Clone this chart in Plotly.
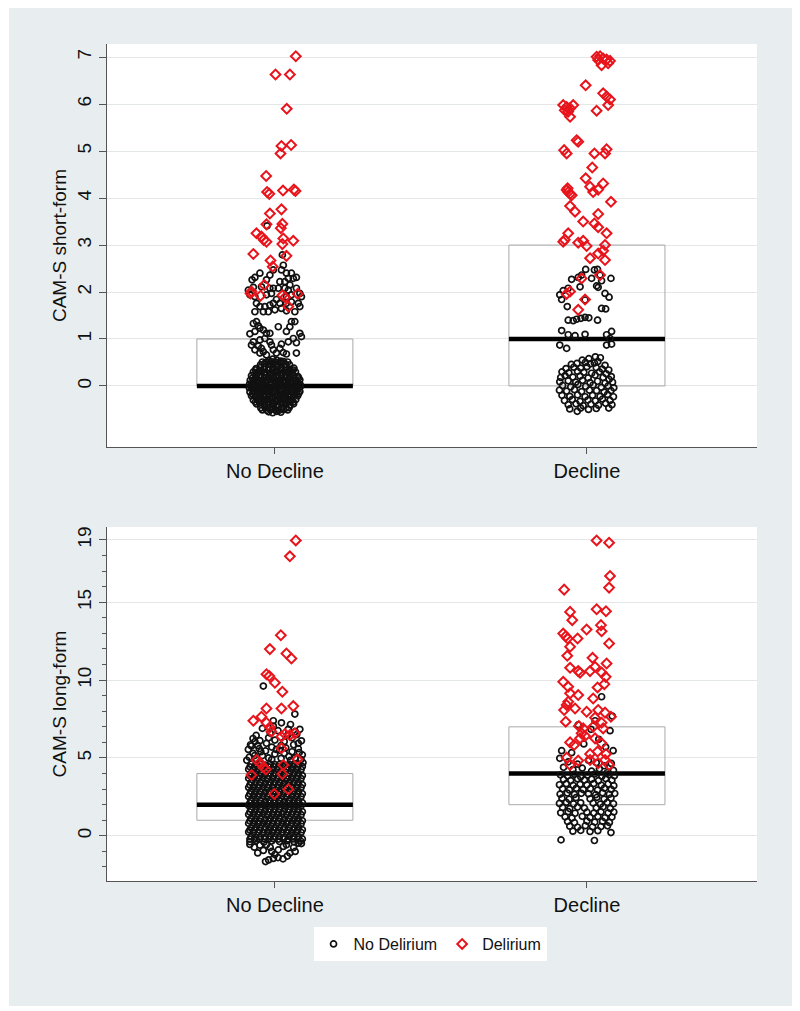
import plotly.graph_objects as go

# ---------------- data ----------------
categories = ["No Decline", "Decline"]
category_positions = [1, 2]

# box statistics (25th pct, median, 75th pct) per category
sf_q1 = [0, 0]
sf_median = [0, 1]
sf_q3 = [1, 3]
lf_q1 = [1, 2]
lf_median = [2, 4]
lf_q3 = [4, 7]

sf_tickvals = [0, 1, 2, 3, 4, 5, 6, 7]
lf_tickvals = [0, 5, 10, 15, 19]

legend_names = ["No Delirium", "Delirium"]

# jittered observations: (horizontal jitter from category centre, value)
# CAM-S short-form, No Decline, No Delirium
sf_nodecline_nodelirium = [
    (0.027, 2.57), (0.021, 2.47), (0.037, 2.40), (0.053, 2.40), (0.043, 2.29), (0.059, 2.29), (0.069, 2.31),
    (-0.048, 2.40), (-0.064, 2.31), (-0.073, 2.26), (-0.016, 2.36), (-0.005, 2.47), (-0.027, 2.26), (0.016, 2.22),
    (0.032, 2.22), (0.048, 2.15), (-0.043, 2.11), (-0.069, 2.10), (-0.085, 2.04), (-0.016, 2.08), (-0.005, 2.08),
    (0.011, 2.08), (0.032, 2.08), (0.043, 2.04), (0.069, 2.08), (0.080, 1.97), (0.085, 1.90), (-0.064, 1.90),
    (-0.059, 1.76), (-0.048, 1.69), (-0.032, 1.69), (-0.016, 1.72), (-0.005, 1.76), (0.005, 1.84), (0.016, 1.76),
    (0.037, 1.76), (0.053, 1.79), (0.075, 1.76), (0.080, 1.69), (-0.037, 1.58), (-0.021, 1.58), (0.000, 1.62),
    (-0.064, 1.58), (0.064, 1.58), (0.037, 1.60), (0.021, 1.65), (-0.080, 1.94), (-0.027, 1.94), (-0.011, 1.97),
    (0.053, 1.94), (0.037, 1.90), (-0.025, 3.41), (0.024, 2.79),
    (-0.069, 1.33), (-0.059, 1.37), (-0.053, 1.28), (-0.048, 1.23), (-0.037, 1.19), (-0.064, 1.16), (-0.080, 1.11),
    (-0.027, 1.12), (-0.016, 1.12), (-0.032, 1.01), (-0.048, 0.98), (-0.069, 0.94), (-0.075, 0.87), (-0.053, 0.85),
    (-0.043, 0.80), (-0.037, 0.73), (-0.016, 0.94), (-0.011, 0.87), (0.011, 1.26), (0.053, 1.37), (0.064, 1.37),
    (0.048, 1.26), (0.037, 1.16), (0.080, 1.12), (0.085, 1.05), (0.059, 1.01), (0.043, 0.94), (0.069, 0.92),
    (0.021, 0.89), (0.016, 0.80), (0.027, 0.71), (0.037, 0.68), (0.069, 0.70), (-0.048, 0.70), (-0.064, 0.77),
    (-0.027, 0.66), (0.005, 0.70), (-0.005, 0.77),
    (-0.020, 0.54), (-0.007, 0.57), (0.006, 0.55), (0.019, 0.53),
    (-0.040, 0.51), (-0.026, 0.50), (-0.013, 0.52), (0.001, 0.51), (0.014, 0.50), (0.028, 0.52), (0.041, 0.51),
    (-0.046, 0.45), (-0.033, 0.48), (-0.019, 0.46), (-0.006, 0.47), (0.008, 0.44), (0.021, 0.49), (0.034, 0.46), (0.047, 0.45),
    (-0.060, 0.37), (-0.047, 0.39), (-0.033, 0.40), (-0.020, 0.36), (-0.006, 0.38), (0.007, 0.41), (0.021, 0.37),
    (0.034, 0.39), (0.048, 0.36), (0.061, 0.38),
    (-0.062, 0.34), (-0.049, 0.33), (-0.035, 0.35), (-0.022, 0.34), (-0.008, 0.33), (0.005, 0.35), (0.019, 0.34),
    (0.032, 0.33), (0.046, 0.35), (0.059, 0.34),
    (-0.069, 0.30), (-0.056, 0.28), (-0.042, 0.31), (-0.029, 0.29), (-0.015, 0.27), (-0.002, 0.30), (0.012, 0.32),
    (0.025, 0.28), (0.039, 0.29), (0.052, 0.31), (0.066, 0.30),
    (-0.075, 0.22), (-0.061, 0.20), (-0.048, 0.21), (-0.034, 0.23), (-0.021, 0.19), (-0.007, 0.21), (0.006, 0.20),
    (0.020, 0.22), (0.033, 0.21), (0.047, 0.19), (0.060, 0.22), (0.074, 0.20),
    (-0.072, 0.17), (-0.058, 0.16), (-0.045, 0.18), (-0.031, 0.17), (-0.018, 0.16), (-0.004, 0.18), (0.009, 0.17),
    (0.023, 0.16), (0.036, 0.18), (0.050, 0.17), (0.063, 0.16), (0.076, 0.17),
    (-0.079, 0.12), (-0.066, 0.14), (-0.052, 0.11), (-0.039, 0.13), (-0.025, 0.12), (-0.012, 0.14), (0.002, 0.11),
    (0.015, 0.13), (0.029, 0.12), (0.042, 0.14), (0.056, 0.12), (0.069, 0.11), (0.080, 0.13),
    (-0.081, 0.04), (-0.068, 0.03), (-0.054, 0.05), (-0.041, 0.04), (-0.027, 0.02), (-0.014, 0.05), (0.000, 0.03),
    (0.013, 0.04), (0.027, 0.06), (0.040, 0.03), (0.054, 0.04), (0.067, 0.05), (0.081, 0.03),
    (-0.078, 0.00), (-0.064, -0.01), (-0.051, 0.01), (-0.037, 0.00), (-0.024, -0.01), (-0.010, 0.01), (0.003, 0.00),
    (0.017, -0.01), (0.030, 0.01), (0.044, 0.00), (0.057, -0.01), (0.071, 0.01), (0.082, -0.01),
    (-0.082, -0.04), (-0.072, -0.05), (-0.059, -0.03), (-0.045, -0.06), (-0.032, -0.04), (-0.018, -0.05), (-0.005, -0.03),
    (0.009, -0.04), (0.022, -0.06), (0.036, -0.05), (0.049, -0.04), (0.063, -0.03), (0.076, -0.05),
    (-0.080, -0.13), (-0.066, -0.12), (-0.053, -0.14), (-0.039, -0.13), (-0.026, -0.11), (-0.012, -0.14), (0.001, -0.12),
    (0.015, -0.13), (0.028, -0.15), (0.042, -0.12), (0.055, -0.13), (0.069, -0.14), (0.080, -0.12),
    (-0.072, -0.17), (-0.058, -0.18), (-0.045, -0.16), (-0.031, -0.17), (-0.018, -0.18), (-0.004, -0.16), (0.009, -0.17),
    (0.023, -0.18), (0.036, -0.16), (0.050, -0.17), (0.063, -0.18), (0.076, -0.16),
    (-0.075, -0.21), (-0.062, -0.22), (-0.048, -0.20), (-0.035, -0.23), (-0.021, -0.21), (-0.008, -0.22), (0.006, -0.20),
    (0.019, -0.21), (0.033, -0.23), (0.046, -0.22), (0.060, -0.20), (0.073, -0.21),
    (-0.069, -0.30), (-0.055, -0.29), (-0.042, -0.31), (-0.028, -0.30), (-0.015, -0.28), (-0.001, -0.32), (0.012, -0.30),
    (0.026, -0.29), (0.039, -0.31), (0.053, -0.30), (0.067, -0.29),
    (-0.062, -0.34), (-0.049, -0.35), (-0.035, -0.33), (-0.022, -0.34), (-0.008, -0.35), (0.005, -0.33), (0.019, -0.34),
    (0.032, -0.35), (0.046, -0.33), (0.059, -0.34),
    (-0.059, -0.38), (-0.046, -0.39), (-0.032, -0.37), (-0.019, -0.40), (-0.005, -0.38), (0.008, -0.39), (0.022, -0.37),
    (0.035, -0.38), (0.049, -0.40), (0.060, -0.38),
    (-0.045, -0.47), (-0.032, -0.46), (-0.018, -0.48), (-0.005, -0.47), (0.009, -0.46), (0.022, -0.48), (0.036, -0.47), (0.046, -0.46),
    (-0.040, -0.51), (-0.026, -0.52), (-0.013, -0.50), (0.001, -0.51), (0.014, -0.52), (0.028, -0.50), (0.041, -0.51),
    (-0.020, -0.55), (-0.007, -0.57), (0.006, -0.54), (0.019, -0.56),
]

# CAM-S short-form, No Decline, Delirium
sf_nodecline_delirium = [
    (0.067, 7.02), (0.002, 6.63), (0.048, 6.63), (0.038, 5.90), (0.021, 5.11), (0.052, 5.13), (0.018, 4.95),
    (-0.028, 4.47), (-0.025, 4.13), (-0.018, 4.09), (0.026, 4.16), (0.061, 4.18), (0.066, 4.15), (-0.016, 3.67),
    (0.021, 3.76), (-0.027, 3.44), (0.024, 3.45), (0.019, 3.36), (-0.059, 3.25), (-0.043, 3.18), (-0.036, 3.11),
    (-0.027, 3.07), (0.027, 3.14), (0.059, 3.09), (0.024, 3.02), (-0.069, 2.81), (0.037, 2.77), (-0.014, 2.67),
    (-0.007, 2.54), (-0.034, 2.15), (-0.075, 2.01), (-0.046, 1.92), (0.033, 1.89), (0.073, 1.96), (0.043, 1.69),
    (-0.078, 1.97), (0.024, 1.93),
]

# CAM-S short-form, Decline, No Delirium
sf_decline_nodelirium = [
    (-0.004, 2.48), (0.024, 2.47), (0.034, 2.48), (-0.017, 2.36), (-0.049, 2.27), (-0.028, 2.31), (0.015, 2.29),
    (0.042, 2.36), (0.077, 2.29), (0.047, 2.24), (-0.022, 2.11), (-0.060, 2.08), (-0.076, 2.03), (-0.087, 1.94),
    (-0.081, 1.84), (0.031, 2.13), (0.036, 2.10), (0.058, 1.97), (0.071, 1.89), (-0.063, 1.69), (-0.006, 1.83),
    (0.047, 1.65), (0.060, 1.64), (-0.060, 1.40), (-0.044, 1.39), (-0.033, 1.42), (-0.019, 1.44), (-0.006, 1.46),
    (0.006, 1.45), (0.034, 1.40), (-0.081, 1.18), (-0.060, 1.09), (-0.038, 1.07), (-0.006, 1.10), (0.063, 1.09),
    (0.079, 1.16), (0.074, 1.01), (-0.087, 0.87), (-0.065, 0.80), (0.063, 0.87), (0.079, 0.89),
    (0.027, 0.62), (0.043, 0.60), (0.006, 0.58), (-0.015, 0.55), (0.035, 0.52),
    (-0.032, 0.48), (-0.050, 0.46), (0.011, 0.47), (0.058, 0.44), (-0.005, 0.50), (0.024, 0.49),
    (-0.067, 0.37), (-0.042, 0.40), (-0.020, 0.38), (0.000, 0.41), (0.030, 0.39), (0.049, 0.36), (0.070, 0.34), (-0.080, 0.30),
    (-0.058, 0.28), (-0.030, 0.31), (-0.010, 0.29), (0.015, 0.27), (0.040, 0.30), (0.062, 0.26), (0.078, 0.20),
    (-0.084, 0.18), (-0.070, 0.22), (-0.045, 0.19), (-0.022, 0.21), (0.004, 0.17), (0.026, 0.23), (0.052, 0.18), (0.071, 0.14),
    (-0.087, 0.09), (-0.060, 0.11), (-0.036, 0.08), (-0.014, 0.12), (0.010, 0.07), (0.034, 0.10), (0.058, 0.06), (0.082, 0.08),
    (-0.078, 0.01), (-0.052, -0.02), (-0.029, 0.03), (-0.004, -0.01), (0.020, 0.02), (0.046, -0.03), (0.068, 0.00), (0.086, -0.04),
    (-0.088, -0.09), (-0.065, -0.11), (-0.040, -0.08), (-0.017, -0.12), (0.008, -0.09), (0.031, -0.10), (0.055, -0.13), (0.077, -0.10),
    (-0.080, -0.20), (-0.055, -0.22), (-0.030, -0.19), (-0.006, -0.23), (0.018, -0.20), (0.042, -0.22), (0.066, -0.18), (0.085, -0.23),
    (-0.072, -0.31), (-0.047, -0.29), (-0.022, -0.33), (0.003, -0.30), (0.027, -0.32), (0.050, -0.28), (0.074, -0.31),
    (-0.060, -0.40), (-0.035, -0.38), (-0.012, -0.42), (0.013, -0.39), (0.037, -0.41), (0.060, -0.37), (0.080, -0.40),
    (-0.055, -0.49), (-0.020, -0.47), (0.005, -0.50), (0.030, -0.48), (0.070, -0.47), (-0.031, -0.54),
]

# CAM-S short-form, Decline, Delirium
sf_decline_delirium = [
    (0.031, 7.01), (0.042, 7.02), (0.052, 6.97), (0.063, 6.95), (0.074, 6.92), (0.047, 6.83), (0.068, 6.87),
    (0.036, 6.94), (-0.004, 6.40), (0.052, 6.23), (0.063, 6.16), (0.074, 6.10), (0.068, 5.98), (0.031, 5.86),
    (-0.076, 5.98), (-0.065, 5.94), (-0.054, 5.91), (-0.044, 5.98), (-0.060, 5.84), (-0.054, 5.73), (-0.071, 5.87),
    (-0.033, 5.23), (-0.028, 5.20), (-0.073, 5.02), (-0.065, 4.95), (0.024, 4.95), (0.058, 4.95), (0.063, 5.04),
    (0.017, 4.65), (-0.004, 4.42), (0.052, 4.31), (-0.065, 4.17), (-0.060, 4.13), (-0.054, 4.09), (-0.062, 4.21),
    (-0.049, 4.06), (0.010, 4.24), (0.020, 4.13), (0.036, 4.18), (0.077, 3.92), (-0.054, 3.83), (-0.038, 3.71),
    (0.036, 3.66), (-0.012, 3.50), (0.024, 3.46), (0.036, 3.38), (0.063, 3.25), (-0.060, 3.25), (-0.071, 3.11),
    (-0.076, 3.07), (-0.028, 3.05), (-0.012, 3.09), (-0.001, 2.98), (0.058, 3.00), (0.052, 2.88), (0.036, 2.82),
    (0.010, 2.72), (0.058, 2.68), (0.042, 2.36), (-0.017, 2.29), (-0.054, 2.01), (-0.065, 1.96), (-0.006, 1.84),
    (-0.028, 1.62),
]

# CAM-S long-form, No Decline, No Delirium
lf_nodecline_nodelirium = [
    (-0.037, 9.62), (0.064, 7.82), (0.021, 7.26), (-0.005, 7.39), (0.080, 6.84), (0.043, 6.84), (-0.064, 6.05),
    (-0.075, 5.77), (-0.048, 6.11), (-0.027, 5.94), (0.000, 6.15), (0.075, 5.94), (0.055, 6.30), (0.030, 6.05),
    (-0.060, 6.45), (-0.015, 6.60), (0.010, 6.75), (-0.040, 6.90), (0.070, 6.50), (0.085, 6.10), (-0.085, 5.55),
    (-0.070, 5.30), (-0.050, 5.60), (-0.030, 5.45), (-0.010, 5.70), (0.015, 5.50), (0.035, 5.65), (0.055, 5.40),
    (0.075, 5.60), (0.088, 5.20), (-0.082, 5.05), (-0.060, 4.95), (-0.040, 5.15), (-0.020, 5.00), (0.000, 5.25),
    (0.020, 4.98), (0.045, 5.10), (0.065, 5.00), (0.084, 4.90), (-0.090, 4.85), (0.090, 4.70), (-0.005, 7.05), (0.050, 7.15),
    (-0.078, 5.85), (-0.055, 5.80), (-0.020, 6.30), (0.040, 6.45), (0.065, 6.70), (-0.070, 6.25), (0.020, 5.80),
    (0.060, 5.85), (-0.045, 5.40), (0.005, 5.55), (0.030, 5.30), (0.078, 5.35), (-0.065, 5.15), (0.050, 4.85), (-0.010, 4.90),
    (-0.080, -0.38), (-0.060, -0.30), (-0.035, -0.40), (-0.010, -0.33), (0.015, -0.37), (0.040, -0.31), (0.062, -0.39), (0.083, -0.34),
    (-0.080, -0.21), (-0.065, -0.20), (-0.050, -0.21), (-0.034, -0.19), (-0.019, -0.21), (-0.004, -0.20), (0.012, -0.21),
    (0.027, -0.19), (0.042, -0.21), (0.058, -0.20), (0.073, -0.21), (0.088, -0.20),
    (-0.076, -0.04), (-0.061, -0.09), (-0.046, -0.05), (-0.031, -0.08), (-0.015, -0.03), (0.000, -0.07), (0.015, -0.05),
    (0.031, -0.09), (0.046, -0.04), (0.061, -0.07), (0.076, -0.05),
    (-0.084, 0.25), (-0.069, 0.21), (-0.054, 0.24), (-0.038, 0.20), (-0.023, 0.26), (-0.008, 0.22), (0.008, 0.25),
    (0.023, 0.21), (0.038, 0.24), (0.054, 0.20), (0.069, 0.26), (0.084, 0.22),
    (-0.080, 0.37), (-0.065, 0.38), (-0.050, 0.37), (-0.034, 0.39), (-0.019, 0.37), (-0.004, 0.38), (0.012, 0.37),
    (0.027, 0.39), (0.042, 0.37), (0.058, 0.38), (0.073, 0.37), (0.088, 0.39),
    (-0.076, 0.50), (-0.061, 0.54), (-0.046, 0.51), (-0.031, 0.55), (-0.015, 0.49), (0.000, 0.53), (0.015, 0.50),
    (0.031, 0.54), (0.046, 0.52), (0.061, 0.49), (0.076, 0.55),
    (-0.084, 0.80), (-0.069, 0.84), (-0.054, 0.79), (-0.038, 0.83), (-0.023, 0.78), (-0.008, 0.82), (0.008, 0.80),
    (0.023, 0.85), (0.038, 0.79), (0.054, 0.83), (0.069, 0.81), (0.084, 0.78),
    (-0.080, 0.95), (-0.065, 0.96), (-0.050, 0.95), (-0.034, 0.97), (-0.019, 0.95), (-0.004, 0.96), (0.012, 0.95),
    (0.027, 0.97), (0.042, 0.95), (0.058, 0.96), (0.073, 0.95), (0.088, 0.97),
    (-0.076, 1.12), (-0.061, 1.08), (-0.046, 1.13), (-0.031, 1.07), (-0.015, 1.11), (0.000, 1.09), (0.015, 1.14),
    (0.031, 1.08), (0.046, 1.12), (0.061, 1.07), (0.076, 1.10),
    (-0.084, 1.37), (-0.069, 1.41), (-0.054, 1.38), (-0.038, 1.42), (-0.023, 1.36), (-0.008, 1.40), (0.008, 1.38),
    (0.023, 1.43), (0.038, 1.37), (0.054, 1.41), (0.069, 1.39), (0.084, 1.36),
    (-0.080, 1.53), (-0.065, 1.54), (-0.050, 1.53), (-0.034, 1.55), (-0.019, 1.53), (-0.004, 1.54), (0.012, 1.53),
    (0.027, 1.55), (0.042, 1.53), (0.058, 1.54), (0.073, 1.53), (0.088, 1.55),
    (-0.076, 1.70), (-0.061, 1.66), (-0.046, 1.69), (-0.031, 1.65), (-0.015, 1.71), (0.000, 1.67), (0.015, 1.69),
    (0.031, 1.72), (0.046, 1.66), (0.061, 1.70), (0.076, 1.67),
    (-0.084, 1.95), (-0.069, 1.99), (-0.054, 1.96), (-0.038, 2.00), (-0.023, 1.94), (-0.008, 1.98), (0.008, 1.96),
    (0.023, 2.01), (0.038, 1.95), (0.054, 1.99), (0.069, 1.97), (0.084, 1.94),
    (-0.080, 2.11), (-0.065, 2.12), (-0.050, 2.11), (-0.034, 2.13), (-0.019, 2.11), (-0.004, 2.12), (0.012, 2.11),
    (0.027, 2.13), (0.042, 2.11), (0.058, 2.12), (0.073, 2.11), (0.088, 2.13),
    (-0.076, 2.28), (-0.061, 2.24), (-0.046, 2.27), (-0.031, 2.23), (-0.015, 2.29), (0.000, 2.25), (0.015, 2.27),
    (0.031, 2.22), (0.046, 2.28), (0.061, 2.25), (0.076, 2.27),
    (-0.084, 2.53), (-0.069, 2.57), (-0.054, 2.54), (-0.038, 2.58), (-0.023, 2.52), (-0.008, 2.56), (0.008, 2.54),
    (0.023, 2.59), (0.038, 2.53), (0.054, 2.57), (0.069, 2.55), (0.084, 2.52),
    (-0.080, 2.69), (-0.065, 2.70), (-0.050, 2.69), (-0.034, 2.71), (-0.019, 2.69), (-0.004, 2.70), (0.012, 2.69),
    (0.027, 2.71), (0.042, 2.69), (0.058, 2.70), (0.073, 2.69), (0.088, 2.71),
    (-0.076, 2.86), (-0.061, 2.82), (-0.046, 2.85), (-0.031, 2.81), (-0.015, 2.87), (0.000, 2.83), (0.015, 2.85),
    (0.031, 2.80), (0.046, 2.86), (0.061, 2.83), (0.076, 2.85),
    (-0.084, 3.11), (-0.069, 3.15), (-0.054, 3.12), (-0.038, 3.16), (-0.023, 3.10), (-0.008, 3.14), (0.008, 3.12),
    (0.023, 3.17), (0.038, 3.11), (0.054, 3.15), (0.069, 3.13), (0.084, 3.10),
    (-0.080, 3.27), (-0.065, 3.28), (-0.050, 3.27), (-0.034, 3.29), (-0.019, 3.27), (-0.004, 3.28), (0.012, 3.27),
    (0.027, 3.29), (0.042, 3.27), (0.058, 3.28), (0.073, 3.27), (0.088, 3.29),
    (-0.076, 3.44), (-0.061, 3.40), (-0.046, 3.43), (-0.031, 3.39), (-0.015, 3.45), (0.000, 3.41), (0.015, 3.43),
    (0.031, 3.38), (0.046, 3.44), (0.061, 3.41), (0.076, 3.43),
    (-0.084, 3.69), (-0.069, 3.73), (-0.054, 3.70), (-0.038, 3.74), (-0.023, 3.68), (-0.008, 3.72), (0.008, 3.70),
    (0.023, 3.75), (0.038, 3.69), (0.054, 3.73), (0.069, 3.71), (0.084, 3.68),
    (-0.080, 3.85), (-0.065, 3.86), (-0.050, 3.85), (-0.034, 3.87), (-0.019, 3.85), (-0.004, 3.86), (0.012, 3.85),
    (0.027, 3.87), (0.042, 3.85), (0.058, 3.86), (0.073, 3.85), (0.088, 3.87),
    (-0.076, 4.02), (-0.061, 3.98), (-0.046, 4.01), (-0.031, 3.97), (-0.015, 4.03), (0.000, 3.99), (0.015, 4.01),
    (0.031, 3.96), (0.046, 4.02), (0.061, 3.99), (0.076, 4.01),
    (-0.084, 4.27), (-0.069, 4.31), (-0.054, 4.28), (-0.038, 4.32), (-0.023, 4.26), (-0.008, 4.30), (0.008, 4.28),
    (0.023, 4.33), (0.038, 4.27), (0.054, 4.31), (0.069, 4.29), (0.084, 4.26),
    (-0.080, 4.43), (-0.065, 4.44), (-0.050, 4.43), (-0.034, 4.45), (-0.019, 4.43), (-0.004, 4.44), (0.012, 4.43),
    (0.027, 4.45), (0.042, 4.43), (0.058, 4.44), (0.073, 4.43), (0.088, 4.45),
    (-0.076, 4.60), (-0.061, 4.56), (-0.046, 4.59), (-0.031, 4.55), (-0.015, 4.61), (0.000, 4.57), (0.015, 4.59),
    (0.031, 4.54), (0.046, 4.60), (0.061, 4.57), (0.076, 4.59),
    (0.075, -0.47), (-0.066, -0.73), (-0.048, -0.60), (-0.037, -0.94), (0.048, -1.11), (0.027, -0.68), (0.011, -0.90),
    (0.037, -0.58), (-0.027, -0.58), (-0.010, -1.00), (-0.020, -1.55), (-0.005, -1.45), (0.010, -1.40), (0.026, -1.48),
    (-0.030, -1.65), (0.060, -0.75), (-0.080, -0.55), (0.085, -0.50), (-0.055, -1.10), (0.000, -1.20), (0.040, -1.30),
    (-0.015, -0.75), (0.065, -1.00),
]

# CAM-S long-form, No Decline, Delirium
lf_nodecline_delirium = [
    (0.067, 18.97), (0.048, 17.95), (0.019, 12.88), (-0.016, 11.99), (0.037, 11.71), (0.053, 11.39), (-0.027, 10.38),
    (-0.018, 10.26), (0.000, 9.83), (0.024, 9.25), (-0.027, 8.18), (0.021, 8.18), (0.059, 8.33), (-0.069, 7.39),
    (-0.043, 7.65), (-0.027, 7.26), (-0.016, 6.97), (-0.011, 6.69), (0.021, 6.37), (0.032, 6.54), (0.048, 6.47),
    (0.064, 6.58), (0.021, 5.62), (0.072, 4.91), (-0.059, 4.87), (-0.048, 4.70), (-0.037, 4.40), (-0.029, 4.27),
    (0.027, 4.55), (0.024, 3.97), (-0.075, 3.91), (-0.002, 2.69), (0.043, 2.99),
]

# CAM-S long-form, Decline, No Delirium
lf_decline_nodelirium = [
    (0.047, 8.93), (0.081, 7.69), (0.026, 7.39), (0.013, 6.84), (-0.028, 7.12), (0.074, 6.75), (-0.081, 5.47),
    (-0.049, 5.34), (0.084, 5.47), (-0.087, 4.98), (0.038, 6.20), (-0.010, 5.90), (0.060, 5.70), (-0.060, 4.75),
    (-0.030, 4.60), (0.005, 4.85), (0.030, 4.70), (0.055, 4.50), (0.078, 4.65), (0.085, 4.20), (-0.075, 4.40),
    (-0.045, 4.25), (-0.015, 4.35), (0.015, 4.15), (0.040, 4.30), (0.065, 4.05),
    (-0.085, 3.92), (-0.062, 3.85), (-0.040, 3.95), (-0.020, 3.80), (0.002, 3.90), (0.025, 3.97), (0.048, 3.83), (0.070, 3.93), (0.088, 3.86),
    (-0.075, 3.62), (-0.052, 3.55), (-0.030, 3.66), (-0.008, 3.58), (0.015, 3.64), (0.037, 3.54), (0.060, 3.68), (0.080, 3.57),
    (-0.088, 3.28), (-0.066, 3.35), (-0.044, 3.24), (-0.022, 3.31), (0.000, 3.27), (0.022, 3.36), (0.046, 3.25), (0.068, 3.33), (0.086, 3.22),
    (-0.078, 3.02), (-0.056, 2.95), (-0.034, 3.05), (-0.012, 2.97), (0.011, 3.03), (0.034, 2.94), (0.056, 3.06), (0.078, 2.98),
    (-0.086, 2.68), (-0.063, 2.75), (-0.040, 2.66), (-0.018, 2.73), (0.005, 2.70), (0.028, 2.64), (0.050, 2.76), (0.072, 2.67), (0.089, 2.72),
    (-0.080, 2.42), (-0.057, 2.35), (-0.035, 2.45), (0.010, 2.38), (0.032, 2.47), (0.055, 2.36), (0.077, 2.43),
    (-0.088, 2.08), (-0.066, 2.15), (-0.043, 2.05), (-0.020, 2.12), (0.020, 2.10), (0.043, 2.03), (0.065, 2.14), (0.085, 2.06),
    (-0.078, 1.82), (-0.055, 1.75), (-0.030, 1.85), (-0.008, 1.78), (0.030, 1.80), (0.052, 1.86), (0.075, 1.76),
    (-0.084, 1.48), (-0.060, 1.55), (-0.038, 1.45), (0.000, 1.52), (0.022, 1.46), (0.045, 1.54), (0.068, 1.47), (0.086, 1.53),
    (-0.070, 1.22), (-0.048, 1.15), (-0.015, 1.25), (0.010, 1.18), (0.035, 1.24), (0.058, 1.16), (0.080, 1.21),
    (-0.062, 0.92), (-0.040, 0.85), (0.000, 0.95), (0.025, 0.88), (0.050, 0.93), (0.072, 0.86),
    (-0.055, 0.62), (-0.030, 0.55), (-0.005, 0.65), (0.018, 0.58), (0.045, 0.60),
    (-0.045, 0.30), (-0.020, 0.35), (0.010, 0.28), (0.035, 0.33),
    (-0.083, -0.26), (0.024, -0.30), (0.077, 0.21), (0.066, 0.64),
]

# CAM-S long-form, Decline, Delirium
lf_decline_delirium = [
    (0.031, 18.97), (0.071, 18.82), (0.074, 16.69), (0.071, 15.94), (-0.073, 15.81), (0.031, 14.55), (0.061, 14.42),
    (-0.054, 14.38), (-0.047, 13.85), (0.045, 13.53), (0.047, 13.14), (-0.076, 12.99), (-0.068, 12.82), (-0.062, 12.67),
    (-0.030, 12.67), (-0.001, 13.25), (-0.054, 12.14), (0.071, 12.35), (-0.063, 11.56), (0.018, 11.43), (0.063, 11.07),
    (-0.054, 10.79), (-0.028, 10.58), (-0.022, 10.47), (0.010, 10.58), (0.026, 10.85), (0.047, 10.49), (0.060, 10.21),
    (0.056, 9.74), (-0.076, 9.89), (-0.060, 9.57), (0.034, 9.53), (-0.054, 9.15), (-0.028, 9.04), (0.020, 8.82),
    (-0.060, 8.61), (-0.065, 8.40), (-0.038, 8.18), (-0.073, 8.08), (-0.001, 7.97), (0.036, 8.08), (0.058, 7.91),
    (0.077, 7.65), (-0.068, 7.33), (0.026, 7.59), (0.047, 7.26), (-0.026, 7.05), (-0.012, 6.90), (0.020, 7.01),
    (0.052, 6.90), (-0.017, 6.58), (-0.006, 6.41), (-0.022, 6.26), (0.026, 6.26), (-0.054, 6.00), (-0.041, 5.83),
    (0.047, 5.94), (0.034, 5.41), (0.010, 5.26), (0.061, 5.26), (-0.065, 5.02), (-0.028, 4.83), (-0.054, 4.55),
    (0.010, 4.87), (0.036, 4.66), (0.058, 4.87), (0.071, 4.55),
]

# ---------------- styling ----------------
FONT = "Liberation Sans, Arial, sans-serif"
BLACK = "#111111"
RED = "#e8141c"
GRID = "#e3e7e8"
AXIS = "#555555"
BOX_LINE = "#a9a9a9"
BG = "#e8eef0"
BOX_HALF = 0.25

fig = go.Figure()


def add_panel(xa, ya, q1, med, q3, nodel_groups, del_groups, show_legend):
    for i, pos in enumerate(category_positions):
        fig.add_trace(go.Scatter(
            x=[pos - BOX_HALF, pos + BOX_HALF, pos + BOX_HALF, pos - BOX_HALF, pos - BOX_HALF],
            y=[q1[i], q1[i], q3[i], q3[i], q1[i]],
            mode="lines", line=dict(color=BOX_LINE, width=1),
            xaxis=xa, yaxis=ya, showlegend=False, hoverinfo="skip"))
        fig.add_trace(go.Scatter(
            x=[pos - BOX_HALF, pos + BOX_HALF], y=[med[i], med[i]],
            mode="lines", line=dict(color="black", width=4.5),
            xaxis=xa, yaxis=ya, showlegend=False, hoverinfo="skip"))
    xs, ys = [], []
    for pos, pts in zip(category_positions, nodel_groups):
        xs += [pos + dx for dx, _ in pts]
        ys += [v for _, v in pts]
    fig.add_trace(go.Scatter(
        x=xs, y=ys, mode="markers", name=legend_names[0], legendgroup="nd",
        showlegend=show_legend, xaxis=xa, yaxis=ya,
        marker=dict(symbol="circle-open", size=6, color=BLACK, line=dict(width=1.7, color=BLACK))))
    xs, ys = [], []
    for pos, pts in zip(category_positions, del_groups):
        xs += [pos + dx for dx, _ in pts]
        ys += [v for _, v in pts]
    fig.add_trace(go.Scatter(
        x=xs, y=ys, mode="markers", name=legend_names[1], legendgroup="d",
        showlegend=show_legend, xaxis=xa, yaxis=ya,
        marker=dict(symbol="diamond-open", size=7.5, color=RED, line=dict(width=2, color=RED))))


add_panel("x", "y", sf_q1, sf_median, sf_q3,
          [sf_nodecline_nodelirium, sf_decline_nodelirium],
          [sf_nodecline_delirium, sf_decline_delirium], True)
add_panel("x2", "y2", lf_q1, lf_median, lf_q3,
          [lf_nodecline_nodelirium, lf_decline_nodelirium],
          [lf_nodecline_delirium, lf_decline_delirium], False)

xaxis_common = dict(
    range=[0.462, 2.545], tickmode="array", tickvals=category_positions, ticktext=categories,
    ticks="outside", ticklen=6, tickcolor=AXIS, showline=True, linecolor=AXIS, linewidth=1,
    showgrid=False, zeroline=False, tickfont=dict(size=20, color="#111111", family=FONT))
yaxis_common = dict(
    tickmode="array", tickangle=-90, ticks="outside", ticklen=7, tickcolor=AXIS,
    showline=True, linecolor=AXIS, linewidth=1, showgrid=True, gridcolor=GRID, gridwidth=1,
    zeroline=False, tickfont=dict(size=19, color="#111111", family=FONT))

fig.update_layout(
    width=800, height=1011,
    margin=dict(l=99, r=51, t=36, b=138),
    paper_bgcolor="white", plot_bgcolor="white",
    font=dict(family=FONT, color="#111111"),
    xaxis=dict(domain=[0, 1], anchor="y", **xaxis_common),
    xaxis2=dict(domain=[0, 1], anchor="y2", **xaxis_common),
    yaxis=dict(domain=[0.5185, 1], anchor="x", range=[-1.3, 7.28], tickvals=sf_tickvals,
               title=dict(text="CAM-S short-form", font=dict(size=19, family=FONT), standoff=2),
               **yaxis_common),
    yaxis2=dict(domain=[0, 0.4229], anchor="x2", range=[-2.9, 19.83], tickvals=lf_tickvals,
                minor=dict(tickmode="linear", tick0=0, dtick=1, ticks="outside", ticklen=4,
                           tickcolor=AXIS, showgrid=False),
                title=dict(text="CAM-S long-form", font=dict(size=19, family=FONT), standoff=2),
                **yaxis_common),
    legend=dict(orientation="h", x=0.497, xanchor="center", y=-0.0753, yanchor="middle",
                bgcolor="white", borderwidth=0, font=dict(size=16, family=FONT),
                itemwidth=30, tracegroupgap=0),
    shapes=[
        dict(type="rect", xref="paper", yref="paper", x0=-0.1508, x1=1.0585, y0=-0.1493, y1=1.0454,
             fillcolor=BG, line=dict(width=0), layer="below"),
        dict(type="rect", xref="paper", yref="paper", x0=0, x1=1, y0=0.5185, y1=1,
             fillcolor="white", line=dict(width=0), layer="below"),
        dict(type="rect", xref="paper", yref="paper", x0=0, x1=1, y0=0, y1=0.4229,
             fillcolor="white", line=dict(width=0), layer="below"),
    ],
)

fig.write_html("out.html")
